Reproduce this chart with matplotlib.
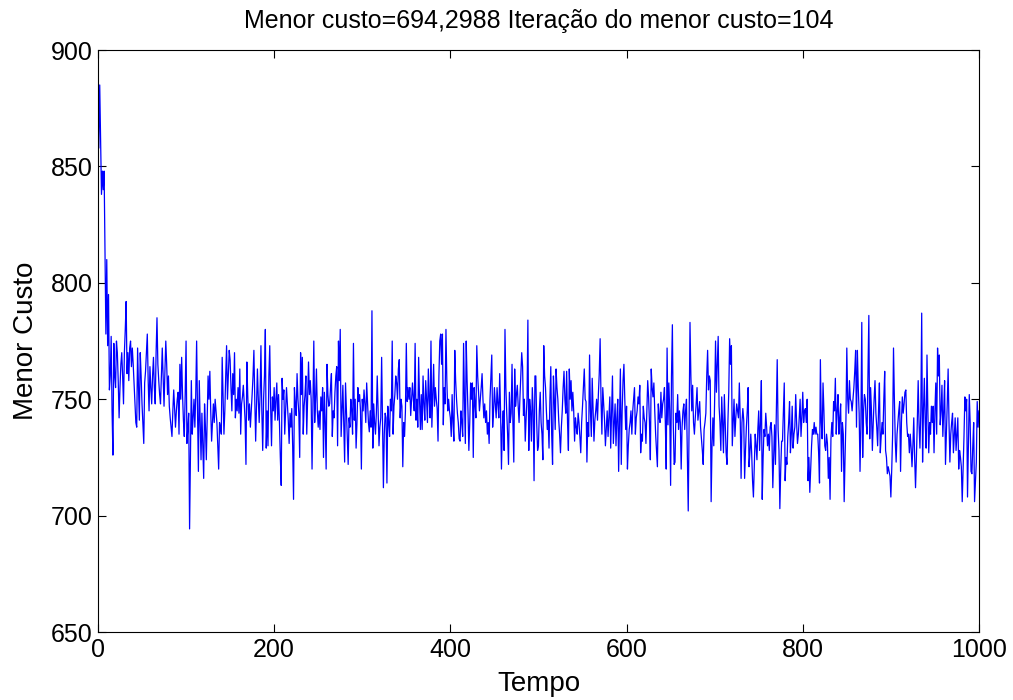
import numpy as np
import matplotlib
matplotlib.use("Agg")
from matplotlib import pyplot as plt

plt.rcParams['font.family'] = ['Liberation Sans', 'DejaVu Sans']

# menor custo por iteracao (iteracoes 1..1000)
custo_001 = [858, 885, 860, 838, 848, 840, 848, 812, 778, 810,
             773, 795, 754, 760, 777, 745, 726, 774, 760, 755,
             775, 770, 758, 742, 755, 765, 770, 760, 748, 770,
             780, 792, 761, 770, 758, 772, 775, 764, 772, 765,
             757, 748, 740, 738, 772, 755, 741, 770, 760, 748,
             740, 731, 757, 762, 770, 778, 758, 745, 764, 755,
             748, 760, 768, 755, 748, 770, 785, 765, 758, 752,
             748, 760, 772, 760, 747, 762, 775, 765, 752, 760,
             747, 742, 738, 734, 745, 754, 746, 738, 745, 750,
             753]
custo_092 = [735, 765, 750, 768, 752, 741, 734, 752, 775, 731,
             738, 744, 694.2988, 725, 758, 735, 742, 750, 738,
             752, 775, 745, 719, 758, 740, 724, 744, 730, 716,
             748, 738, 724, 742, 760, 750, 762, 745, 732, 740,
             748, 740, 750, 745, 740, 730, 720, 740, 738, 735,
             768, 752, 735, 745, 760, 773, 750, 760, 771, 767,
             755, 745, 761, 752, 770, 742, 750, 745, 755, 744,
             763, 735, 748, 751, 756, 748, 741, 722, 766, 752,
             741, 748, 738, 745, 752, 760, 771, 750, 732, 748,
             763, 750, 740, 752]
custo_185 = [773, 745, 728, 750, 760, 780, 729, 745, 730, 760,
             773, 747, 730, 751, 745, 755, 741, 750, 757, 741,
             752, 740, 725, 713, 759, 750, 754, 735, 745, 755,
             748, 741, 731, 744, 738, 746, 730, 707, 755, 748,
             743, 761, 750, 744, 725, 770, 752, 768, 735, 747,
             752, 760, 735, 750, 766, 752, 758, 750, 720, 748,
             775, 740, 750, 763, 745, 738, 745, 737, 751, 745,
             755, 725, 753, 740, 720, 765, 752, 747, 748, 755,
             761, 734, 745, 742, 753, 760, 764, 730, 775, 758,
             780]
custo_276 = [734, 745, 756, 740, 723, 757, 745, 733, 722, 742,
             738, 750, 745, 735, 774, 741, 750, 729, 740, 755,
             749, 752, 745, 720, 750, 745, 754, 748, 740, 757,
             748, 740, 736, 745, 738, 788, 729, 748, 740, 735,
             744, 760, 745, 730, 738, 742, 768, 740, 712, 735,
             744, 742, 714, 747, 740, 734, 750, 745, 775, 735,
             747, 752, 760, 757, 750, 763, 767, 742, 750, 747,
             721, 740, 734, 745, 774, 749, 755, 750, 755, 743,
             750, 757, 750, 745, 774, 741, 750, 738, 768, 750,
             737]
custo_367 = [752, 737, 760, 748, 741, 758, 750, 740, 763, 750,
             742, 775, 738, 752, 765, 747, 755, 750, 746, 732,
             760, 775, 778, 765, 778, 739, 755, 748, 780, 758,
             745, 750, 745, 742, 734, 752, 740, 732, 771, 758,
             750, 744, 740, 733, 732, 745, 740, 734, 774, 750,
             731, 775, 758, 745, 728, 740, 757, 750, 757, 725,
             755, 748, 742, 773, 760, 753, 745, 750, 755, 761,
             750, 742, 748, 740, 745, 735, 740, 731, 750, 760,
             769, 738, 745, 755, 748, 742, 755, 748, 742, 761]
custo_457 = [745, 720, 738, 745, 728, 780, 755, 744, 735, 722,
             753, 740, 744, 765, 740, 723, 763, 747, 752, 756,
             747, 740, 751, 760, 770, 764, 743, 750, 732, 742,
             750, 784, 728, 750, 745, 732, 755, 745, 715, 760,
             760, 740, 728, 730, 745, 753, 740, 735, 724, 773,
             760, 755, 745, 737, 741, 729, 750, 764, 735, 722,
             760, 750, 737, 763, 755, 750, 741, 735, 727, 738,
             745, 755, 762, 750, 744, 762, 740, 728, 763, 750,
             758, 745, 753, 745, 732, 742, 738, 735, 744, 740,
             734]
custo_548 = [727, 740, 747, 755, 763, 750, 749, 723, 740, 734,
             769, 745, 734, 759, 745, 732, 741, 745, 750, 741,
             752, 761, 776, 750, 735, 755, 748, 741, 730, 738,
             745, 734, 742, 751, 729, 745, 760, 731, 740, 748,
             730, 742, 750, 719, 740, 763, 722, 745, 758, 765,
             750, 737, 747, 720, 730, 737, 740, 745, 735, 745,
             750, 755, 735, 742, 745, 751, 748, 756, 727, 735,
             732, 747, 742, 740, 731, 745, 758, 751, 740, 724,
             763, 755, 751, 757, 745, 735, 728, 721, 748, 742,
             740]
custo_639 = [753, 742, 748, 750, 755, 740, 720, 772, 739, 757,
             745, 713, 760, 782, 740, 722, 723, 744, 740, 752,
             737, 745, 740, 720, 738, 745, 748, 737, 745, 750,
             725, 702, 740, 783, 760, 745, 756, 740, 735, 742,
             748, 755, 741, 745, 749, 738, 733, 728, 722, 737,
             740, 744, 760, 771, 754, 760, 758, 706, 730, 742,
             730, 750, 775, 753, 765, 777, 747, 740, 728, 751,
             740, 727, 752, 740, 727, 722, 740, 753, 776, 765,
             773, 730, 740, 750, 734, 742, 748, 745, 742, 757,
             742]
custo_730 = [716, 740, 746, 741, 716, 728, 738, 745, 755, 721,
             727, 735, 727, 715, 708, 721, 735, 730, 724, 737,
             745, 728, 740, 758, 707, 725, 737, 734, 744, 738,
             730, 735, 728, 738, 740, 734, 712, 725, 739, 722,
             745, 767, 737, 728, 703, 720, 732, 732, 745, 757,
             715, 725, 722, 734, 740, 749, 727, 735, 747, 729,
             735, 738, 752, 740, 731, 735, 742, 750, 734, 742,
             753, 740, 745, 746, 740, 750, 715, 725, 710, 720,
             730, 737, 735, 740, 735, 738, 735, 735, 727, 714,
             767]
custo_821 = [740, 733, 757, 745, 730, 728, 735, 731, 716, 725,
             707, 733, 740, 734, 749, 745, 759, 735, 745, 752,
             735, 742, 748, 719, 740, 735, 706, 725, 741, 772,
             750, 744, 758, 750, 749, 745, 750, 755, 762, 771,
             738, 771, 755, 744, 719, 740, 783, 725, 745, 752,
             750, 740, 735, 760, 786, 733, 755, 745, 728, 740,
             750, 758, 744, 738, 730, 745, 757, 727, 734, 740,
             735, 750, 762, 728, 725, 718, 721, 719, 717, 708,
             720, 735, 772, 750, 732, 723, 735, 740, 745, 749]
custo_911 = [719, 740, 751, 744, 748, 753, 754, 740, 734, 735,
             727, 735, 729, 721, 730, 742, 725, 712, 725, 740,
             758, 739, 729, 745, 787, 723, 745, 759, 740, 729,
             769, 745, 727, 740, 735, 747, 740, 747, 727, 745,
             757, 735, 772, 760, 769, 739, 745, 756, 734, 745,
             758, 722, 735, 748, 763, 740, 723, 735, 740, 744,
             727, 735, 742, 728, 735, 742, 720, 728, 725, 721,
             706, 720, 734, 751, 745, 750, 708, 730, 752, 740,
             719, 718, 730, 740, 706, 715, 723, 749, 738, 745]

custo = np.array(custo_001 + custo_092 + custo_185 + custo_276 + custo_367 +
                 custo_457 + custo_548 + custo_639 + custo_730 + custo_821 +
                 custo_911)
iteracao = np.arange(1, len(custo) + 1)

fig = plt.figure(figsize=(10.13, 7.0), dpi=100)
ax = fig.add_axes([0.0967, 0.0971, 0.8697, 0.8314])
ax.plot(iteracao, custo, color=(0, 0, 1), linewidth=0.9)

ax.set_xlim(0, 1000)
ax.set_ylim(650, 900)
ax.set_xticks([0, 200, 400, 600, 800, 1000])
ax.set_yticks([650, 700, 750, 800, 850, 900])
ax.tick_params(direction='in', length=6, width=0.8, labelsize=18,
               top=True, right=True, pad=4)
for s in ax.spines.values():
    s.set_linewidth(0.8)

ax.set_xlabel('Tempo', fontsize=20, labelpad=7)
ax.set_ylabel('Menor Custo', fontsize=20, labelpad=8)
ax.set_title('Menor custo=694,2988 Iteração do menor custo=104', fontsize=18, pad=16)

plt.savefig('out.png', dpi=100)
